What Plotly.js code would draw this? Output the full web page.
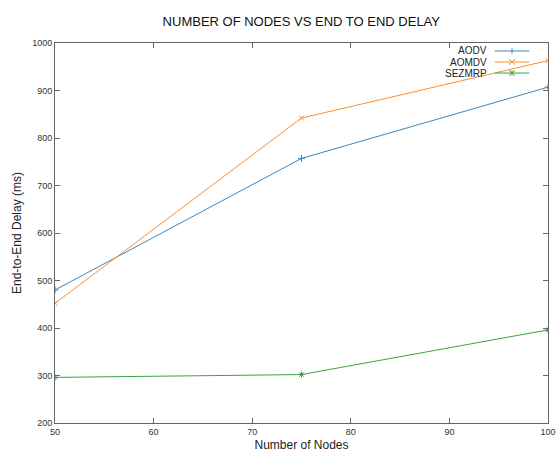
<!DOCTYPE html>
<html><head><meta charset="utf-8">
<script src="https://cdn.plot.ly/plotly-3.0.1.min.js"></script>
<style>html,body{margin:0;padding:0;background:#fff}#chart{width:558px;height:456px}</style>
</head><body><div id="chart"></div>
<script>
const nodes = [50, 75, 100];
const aodv = [480, 757, 907];
const aomdv = [452, 842, 963];
const sezmrp = [296, 302, 396];
const seriesNames = ['AODV', 'AOMDV', 'SEZMRP'];
const colors = ['#3a87bd', '#fd8d2c', '#3aa63a'];
const symbols = ['cross-thin', 'x-thin', 'asterisk'];
const xTicks = [50, 60, 70, 80, 90, 100];
const yTicks = [200, 300, 400, 500, 600, 700, 800, 900, 1000];

const allY = [aodv, aomdv, sezmrp];
const traces = allY.map((ys, i) => ({
  x: nodes, y: ys, name: seriesNames[i], type: 'scatter', mode: 'lines+markers',
  line: {color: colors[i], width: 1},
  marker: {symbol: symbols[i], size: 5, color: colors[i], line: {color: colors[i], width: 1}},
  showlegend: false
}));

const font = {family: 'Liberation Sans, Arial, sans-serif', color: '#222'};
const annotations = [];
const shapes = [];
const legY = [0.979, 0.95, 0.921];
seriesNames.forEach((n, i) => {
  annotations.push({xref: 'paper', yref: 'paper', x: 0.881, y: legY[i], xanchor: 'right', yanchor: 'middle',
    text: n, showarrow: false, font: {family: font.family, size: 10, color: '#222'}});
  shapes.push({type: 'line', xref: 'paper', yref: 'paper', x0: 0.892, x1: 0.962, y0: legY[i], y1: legY[i],
    line: {color: colors[i], width: 1}});
});
// legend marker glyphs
const lx = 0.927, d = 0.006, dy = 0.007;
shapes.push({type:'line',xref:'paper',yref:'paper',x0:lx,x1:lx,y0:legY[0]-dy,y1:legY[0]+dy,line:{color:colors[0],width:1}});
shapes.push({type:'line',xref:'paper',yref:'paper',x0:lx-d,x1:lx+d,y0:legY[1]-dy,y1:legY[1]+dy,line:{color:colors[1],width:1}});
shapes.push({type:'line',xref:'paper',yref:'paper',x0:lx-d,x1:lx+d,y0:legY[1]+dy,y1:legY[1]-dy,line:{color:colors[1],width:1}});
shapes.push({type:'line',xref:'paper',yref:'paper',x0:lx-d,x1:lx+d,y0:legY[2]-dy,y1:legY[2]+dy,line:{color:colors[2],width:1}});
shapes.push({type:'line',xref:'paper',yref:'paper',x0:lx-d,x1:lx+d,y0:legY[2]+dy,y1:legY[2]-dy,line:{color:colors[2],width:1}});
shapes.push({type:'line',xref:'paper',yref:'paper',x0:lx,x1:lx,y0:legY[2]-dy,y1:legY[2]+dy,line:{color:colors[2],width:1}});

const axisCommon = {
  showgrid: false, zeroline: false, showline: true, linecolor: '#666', linewidth: 1, mirror: 'ticks',
  ticks: 'inside', ticklen: 5, tickcolor: '#666', tickfont: {family: font.family, size: 9, color: '#333'}
};
const layout = {
  width: 558, height: 456,
  margin: {l: 55, r: 10, t: 43, b: 33},
  paper_bgcolor: '#fff', plot_bgcolor: '#fff',
  title: {text: 'NUMBER OF NODES VS END TO END DELAY', font: {family: font.family, size: 13, color: '#111'},
    x: 0.54, xanchor: 'center', y: 0.953, yanchor: 'middle'},
  xaxis: Object.assign({}, axisCommon, {range: [50, 100], tickvals: xTicks,
    title: {text: 'Number of Nodes', font: {family: font.family, size: 12, color: '#222'}, standoff: 4}}),
  yaxis: Object.assign({}, axisCommon, {range: [200, 1000], tickvals: yTicks,
    title: {text: 'End-to-End Delay (ms)', font: {family: font.family, size: 12, color: '#222'}, standoff: 7}}),
  annotations: annotations, shapes: shapes, showlegend: false
};
Plotly.newPlot('chart', traces, layout, {displayModeBar: false, staticPlot: true});
</script></body></html>
